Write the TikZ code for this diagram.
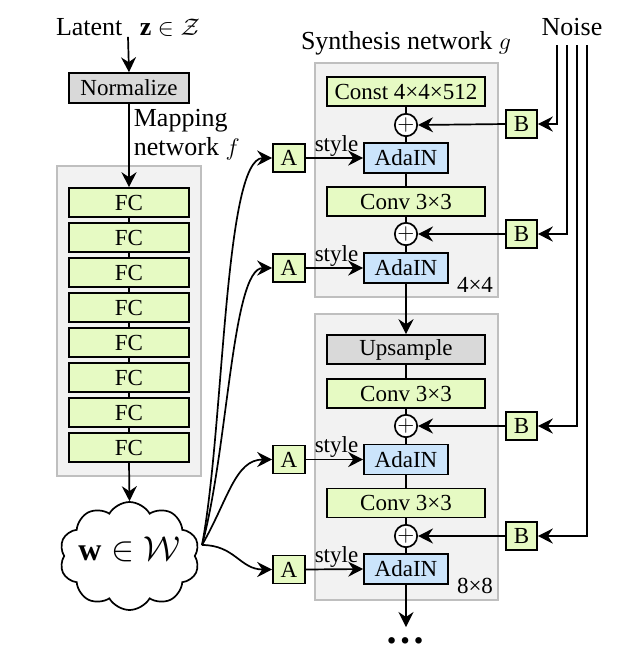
\documentclass[tikz,border=0pt]{standalone}
\usepackage{fontspec}
\setmainfont{Liberation Serif}
\usetikzlibrary{shapes.symbols,arrows.meta}
\definecolor{boxgreen}{HTML}{E6FAC3}
\definecolor{boxblue}{HTML}{CBE4FB}
\definecolor{boxgray}{HTML}{D9D9D9}
\definecolor{panelfill}{HTML}{F2F2F2}
\definecolor{panelline}{HTML}{BFBFBF}
\begin{document}
\begin{tikzpicture}[x=0.5pt,y=-0.5pt,
  line width=0.85pt,
  >={Stealth[length=7.5pt,width=7.5pt,inset=2.5pt]},
  bigtext/.style={font=\fontsize{13}{14.5}\selectfont, inner sep=0pt},
  smalltext/.style={font=\fontsize{11.5}{13}\selectfont, inner sep=0pt},
  dotstext/.style={font=\fontsize{20}{20}\selectfont\bfseries, inner sep=0pt},
  panel/.style={draw=panelline, fill=panelfill, line width=1pt, inner sep=0pt},
  wideblk/.style={draw, line width=0.8pt, minimum width=79pt, minimum height=14.5pt, inner sep=0pt, font=\fontsize{11.5}{13}\selectfont},
  fcblk/.style={wideblk, fill=boxgreen, minimum width=60pt},
  normblk/.style={wideblk, fill=boxgray, minimum width=60pt, minimum height=15pt},
  convblk/.style={wideblk, fill=boxgreen},
  upblk/.style={wideblk, fill=boxgray},
  adablk/.style={wideblk, fill=boxblue, minimum width=42pt, minimum height=15pt},
  abox/.style={wideblk, fill=boxgreen, minimum width=16pt, minimum height=14pt},
  bbox/.style={wideblk, fill=boxgreen, minimum width=15.5pt, minimum height=14pt},
  plusnode/.style={draw, circle, fill=white, minimum size=10.5pt, inner sep=0pt, font=\fontsize{11}{11}\selectfont}
]
\useasboundingbox (0,0) rectangle (620,661);

% panels
\node[panel, minimum width=72pt, minimum height=155pt] (mappanel) at (129,321) {};
\node[panel, minimum width=91.5pt, minimum height=117pt] (synpanelA) at (406.5,180) {};
\node[panel, minimum width=91.5pt, minimum height=143pt] (synpanelB) at (406.5,457) {};

% titles
\node[bigtext] (latent) at (128,27) {Latent\ \ \,$\mathbf{z}\in\mathcal{Z}$};
\node[bigtext] (noise) at (572,27) {Noise};
\node[bigtext] (synth) at (406,43) {Synthesis network $g$};
\node[bigtext, anchor=west, align=left] (maplabel) at (133,135) {Mapping\\network $f$};

% mapping network
\node[normblk] (norm) at (129,88) {Normalize};
\foreach \i in {0,...,7} {
  \node[fcblk] (fc\i) at (129,{202.5+35*\i}) {FC};
}
\node[cloud, draw, fill=white, cloud puffs=10, cloud puff arc=120, aspect=1.3,
      minimum width=70pt, minimum height=54pt, inner sep=0pt] (w) at (129.5,556) {};
\node[font=\fontsize{16}{18}\selectfont, inner sep=0pt] (wtext) at (129.5,549) {$\mathbf{w}\in\mathcal{W}$};

\draw[->] (latent.south) -- (norm.north);
\draw[->] (norm.south) -- (fc0.north);
\foreach \i [evaluate=\i as \j using int(\i+1)] in {0,...,6} {
  \draw (fc\i.south) -- (fc\j.north);
}
\draw[->] (fc7.south) -- (w.north);

% synthesis block 4x4
\node[convblk] (const) at (406,91.5) {Const 4×4×512};
\node[plusnode] (p1) at (406,125) {$+$};
\node[adablk] (ada1) at (406,158) {AdaIN};
\node[convblk] (conv1) at (406,201.5) {Conv 3×3};
\node[plusnode] (p2) at (406,234) {$+$};
\node[adablk] (ada2) at (406,268) {AdaIN};
\node[smalltext] (res4) at (475,285) {4×4};

% synthesis block 8x8
\node[upblk] (up) at (406,349.5) {Upsample};
\node[convblk] (conv2) at (406,393.5) {Conv 3×3};
\node[plusnode] (p3) at (406,426) {$+$};
\node[adablk] (ada3) at (406,459.5) {AdaIN};
\node[convblk] (conv3) at (406,503) {Conv 3×3};
\node[plusnode] (p4) at (406,536) {$+$};
\node[adablk] (ada4) at (406,569) {AdaIN};
\node[smalltext] (res8) at (475,586) {8×8};
\node[dotstext] (ellip) at (406,641) {…};
\coordinate (outend) at (406,627);

\draw (const) -- (p1) -- (ada1) -- (conv1) -- (p2) -- (ada2);
\draw[->] (ada2.south) -- (up.north);
\draw (up) -- (conv2) -- (p3) -- (ada3) -- (conv3) -- (p4) -- (ada4);
\draw[->] (ada4.south) -- (outend);

% A boxes
\node[abox] (a1) at (289,158) {A};
\node[abox] (a2) at (289,268) {A};
\node[abox] (a3) at (289,459.5) {A};
\node[abox] (a4) at (289,569.5) {A};
\foreach \k in {1,2,3,4} {
  \draw[->] (a\k.east) -- (ada\k.west) node[pos=0.5, above=0.5pt, xshift=1pt, smalltext] {style};
}

% B boxes and noise
\node[bbox] (b1) at (521.5,124) {B};
\node[bbox] (b2) at (521.5,234) {B};
\node[bbox] (b3) at (521.5,426) {B};
\node[bbox] (b4) at (521.5,536) {B};
\draw[->] (b1.west) -- (p1.east);
\draw[->] (b2.west) -- (p2.east);
\draw[->] (b3.west) -- (p3.east);
\draw[->] (b4.west) -- (p4.east);
\coordinate (n1) at (557,45);
\coordinate (n2) at (567,45);
\coordinate (n3) at (577,45);
\coordinate (n4) at (587,45);
\draw[->] (n1) |- (b1.east);
\draw[->] (n2) |- (b2.east);
\draw[->] (n3) |- (b3.east);
\draw[->] (n4) |- (b4.east);

% curves from w to A boxes
\coordinate (wout) at (202,545);
\draw[->] (wout) .. controls (224,430) and (224,158) .. (a1.west);
\draw[->] (wout) .. controls (228,450) and (232,268) .. (a2.west);
\draw[->] (wout) .. controls (228,500) and (235,459.5) .. (a3.west);
\draw[->] (wout) .. controls (235,545) and (240,569.5) .. (a4.west);
\end{tikzpicture}
\end{document}
